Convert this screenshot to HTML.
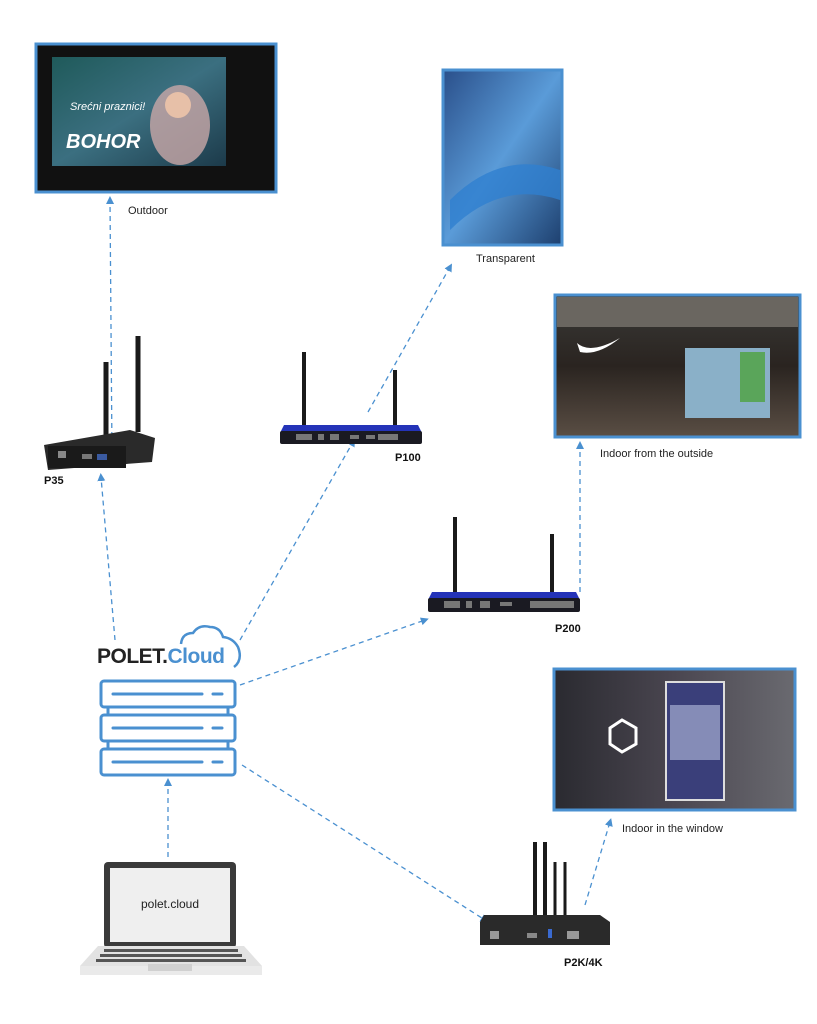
<!DOCTYPE html>
<html><head><meta charset="utf-8"><style>
html,body{margin:0;padding:0;background:#fff}
svg{display:block}
text{font-family:"Liberation Sans",sans-serif}
</style></head><body>
<svg width="817" height="1024" viewBox="0 0 817 1024" xmlns="http://www.w3.org/2000/svg">
<defs>
<marker id="ar" markerWidth="8" markerHeight="8" refX="4" refY="4" orient="auto" markerUnits="userSpaceOnUse">
<path d="M0,0 L8,4 L0,8 z" fill="#4a90d0"/></marker>
<linearGradient id="g1" x1="0" y1="0" x2="1" y2="1"><stop offset="0" stop-color="#1f5a5a"/><stop offset="0.5" stop-color="#3b6f80"/><stop offset="1" stop-color="#1c3a4a"/></linearGradient>
<linearGradient id="g2" x1="0" y1="0" x2="1" y2="1"><stop offset="0" stop-color="#2a4f8a"/><stop offset="0.5" stop-color="#5a9bd8"/><stop offset="1" stop-color="#1d3f6e"/></linearGradient>
<linearGradient id="g3" x1="0" y1="0" x2="0" y2="1"><stop offset="0" stop-color="#3a3a38"/><stop offset="0.5" stop-color="#2a2420"/><stop offset="1" stop-color="#5a4e44"/></linearGradient>
<linearGradient id="g4" x1="0" y1="0" x2="1" y2="0"><stop offset="0" stop-color="#2a2a30"/><stop offset="0.5" stop-color="#4a4650"/><stop offset="1" stop-color="#6a6a70"/></linearGradient>
</defs>

<g stroke="#4a90d0" stroke-width="1.3" stroke-dasharray="5,4" fill="none" marker-end="url(#ar)">
<line x1="112" y1="455" x2="110" y2="200"/>
<line x1="115" y1="640" x2="101" y2="477"/>
<line x1="240" y1="640" x2="353" y2="442"/>
<line x1="368" y1="412" x2="450" y2="267"/>
<line x1="240" y1="685" x2="425" y2="620"/>
<line x1="580" y1="592" x2="580" y2="445"/>
<line x1="242" y1="765" x2="485" y2="920"/>
<line x1="585" y1="905" x2="610" y2="822"/>
<line x1="168" y1="857" x2="168" y2="782"/>
</g>

<rect x="36" y="44" width="240" height="148" fill="#111" stroke="#4a90d0" stroke-width="3"/>
<rect x="52" y="57" width="174" height="109" fill="url(#g1)"/>
<ellipse cx="180" cy="125" rx="30" ry="40" fill="#c9a8a8" opacity="0.8"/>
<circle cx="178" cy="105" r="13" fill="#e7c0a8"/>
<text x="66" y="148" font-size="20" font-weight="bold" fill="#fff" font-style="italic">BOHOR</text>
<text x="70" y="110" font-size="11" fill="#fff" font-style="italic">Srećni praznici!</text>
<text x="128" y="214" font-size="11" fill="#222">Outdoor</text>

<rect x="443" y="70" width="119" height="175" fill="url(#g2)" stroke="#4a90d0" stroke-width="3"/>
<path d="M450 200 Q500 150 560 170 L560 200 Q500 180 450 230z" fill="#2f7fd0" opacity="0.8"/>
<text x="476" y="262" font-size="11" fill="#222">Transparent</text>

<rect x="555" y="295" width="245" height="142" fill="url(#g3)" stroke="#4a90d0" stroke-width="3"/>
<rect x="557" y="297" width="241" height="30" fill="#6a6660"/>
<path d="M577 343 Q590 355 620 338 Q598 356 580 352z" fill="#fff"/>
<rect x="685" y="348" width="85" height="70" fill="#8ab0c8"/>
<rect x="740" y="352" width="25" height="50" fill="#5aa55a"/>
<text x="600" y="457" font-size="11" fill="#222">Indoor from the outside</text>

<rect x="554" y="669" width="241" height="141" fill="url(#g4)" stroke="#4a90d0" stroke-width="3"/>
<rect x="666" y="682" width="58" height="118" fill="#3a3f7a" stroke="#ddd" stroke-width="2"/>
<rect x="670" y="705" width="50" height="55" fill="#b8c0e0" opacity="0.6"/>
<polygon points="610,728 622,720 636,728 636,744 622,752 610,744" fill="none" stroke="#fff" stroke-width="3"/>
<text x="622" y="832" font-size="11" fill="#222">Indoor in the window</text>

<line x1="106" y1="362" x2="106" y2="440" stroke="#1a1a1a" stroke-width="5"/>
<line x1="138" y1="336" x2="138" y2="432" stroke="#1a1a1a" stroke-width="5"/>
<path d="M44 445 L130 430 L155 438 L152 462 L48 470 Z" fill="#2a2a2a"/>
<rect x="48" y="446" width="78" height="22" fill="#1a1a1a"/>
<rect x="58" y="451" width="8" height="7" fill="#888"/>
<rect x="82" y="454" width="10" height="5" fill="#777"/>
<rect x="97" y="454" width="10" height="6" fill="#3a5aa0"/>
<text x="44" y="484" font-size="11" font-weight="bold" fill="#111">P35</text>

<line x1="304" y1="352" x2="304" y2="428" stroke="#1a1a1a" stroke-width="4"/>
<line x1="395" y1="370" x2="395" y2="428" stroke="#1a1a1a" stroke-width="4"/>
<path d="M284 425 L418 425 L422 433 L280 433 Z" fill="#2433b8"/>
<rect x="280" y="431" width="142" height="13" rx="2" fill="#1a1a22"/>
<g fill="#777"><rect x="296" y="434" width="16" height="6"/><rect x="318" y="434" width="6" height="6"/><rect x="330" y="434" width="9" height="6"/><rect x="350" y="435" width="9" height="4"/><rect x="366" y="435" width="9" height="4"/><rect x="378" y="434" width="20" height="6"/></g>
<text x="395" y="461" font-size="11" font-weight="bold" fill="#111">P100</text>

<line x1="455" y1="517" x2="455" y2="595" stroke="#1a1a1a" stroke-width="4"/>
<line x1="552" y1="534" x2="552" y2="595" stroke="#1a1a1a" stroke-width="4"/>
<path d="M432 592 L576 592 L580 600 L428 600 Z" fill="#2433b8"/>
<rect x="428" y="598" width="152" height="14" rx="2" fill="#1a1a22"/>
<g fill="#777"><rect x="444" y="601" width="16" height="7"/><rect x="466" y="601" width="6" height="7"/><rect x="480" y="601" width="10" height="7"/><rect x="500" y="602" width="12" height="4"/><rect x="530" y="601" width="44" height="7"/></g>
<text x="555" y="632" font-size="11" font-weight="bold" fill="#111">P200</text>

<g stroke="#1a1a1a"><line x1="535" y1="842" x2="535" y2="917" stroke-width="4"/><line x1="545" y1="842" x2="545" y2="917" stroke-width="4"/><line x1="555" y1="862" x2="555" y2="917" stroke-width="3"/><line x1="565" y1="862" x2="565" y2="917" stroke-width="3"/></g>
<path d="M484 915 L600 915 L610 922 L610 945 L480 945 L480 922 Z" fill="#2a2a2a"/>
<rect x="490" y="931" width="9" height="8" fill="#999"/>
<rect x="527" y="933" width="10" height="5" fill="#888"/>
<rect x="548" y="929" width="4" height="9" fill="#3a6ad0"/>
<rect x="567" y="931" width="12" height="8" fill="#999"/>
<text x="564" y="966" font-size="11" font-weight="bold" fill="#111">P2K/4K</text>

<text x="97" y="663" font-size="21" font-weight="bold" fill="#222" letter-spacing="-0.5">POLET.<tspan fill="#4a90d0">Cloud</tspan></text>
<path d="M181 644 Q182 633 193 633 Q199 624 210 627 Q220 627 223 637 Q233 638 238 647 Q243 660 234 667" fill="none" stroke="#4a90d0" stroke-width="2.5"/>

<g fill="#fff" stroke="#4a90d0" stroke-width="3">
<rect x="108" y="707" width="120" height="10"/>
<rect x="108" y="741" width="120" height="10"/>
<rect x="101" y="681" width="134" height="26" rx="3"/>
<rect x="101" y="715" width="134" height="26" rx="3"/>
<rect x="101" y="749" width="134" height="26" rx="3"/>
</g>
<g stroke="#4a90d0" stroke-width="3" stroke-linecap="round">
<line x1="113" y1="694" x2="202" y2="694"/><line x1="213" y1="694" x2="222" y2="694"/>
<line x1="113" y1="728" x2="202" y2="728"/><line x1="213" y1="728" x2="222" y2="728"/>
<line x1="113" y1="762" x2="202" y2="762"/><line x1="213" y1="762" x2="222" y2="762"/>
</g>

<rect x="104" y="862" width="132" height="86" rx="4" fill="#3a3a3a"/>
<rect x="110" y="868" width="120" height="74" fill="#efefef"/>
<text x="170" y="908" font-size="12" fill="#222" text-anchor="middle">polet.cloud</text>
<path d="M98 946 L244 946 L262 966 L80 966 Z" fill="#e2e2e2"/>
<rect x="80" y="966" width="182" height="9" fill="#eaeaea"/>
<g fill="#555"><rect x="104" y="949" width="134" height="3"/><rect x="100" y="954" width="142" height="3"/><rect x="96" y="959" width="150" height="3"/></g>
<rect x="148" y="964" width="44" height="7" fill="#d0d0d0"/>
</svg>
</body></html>
